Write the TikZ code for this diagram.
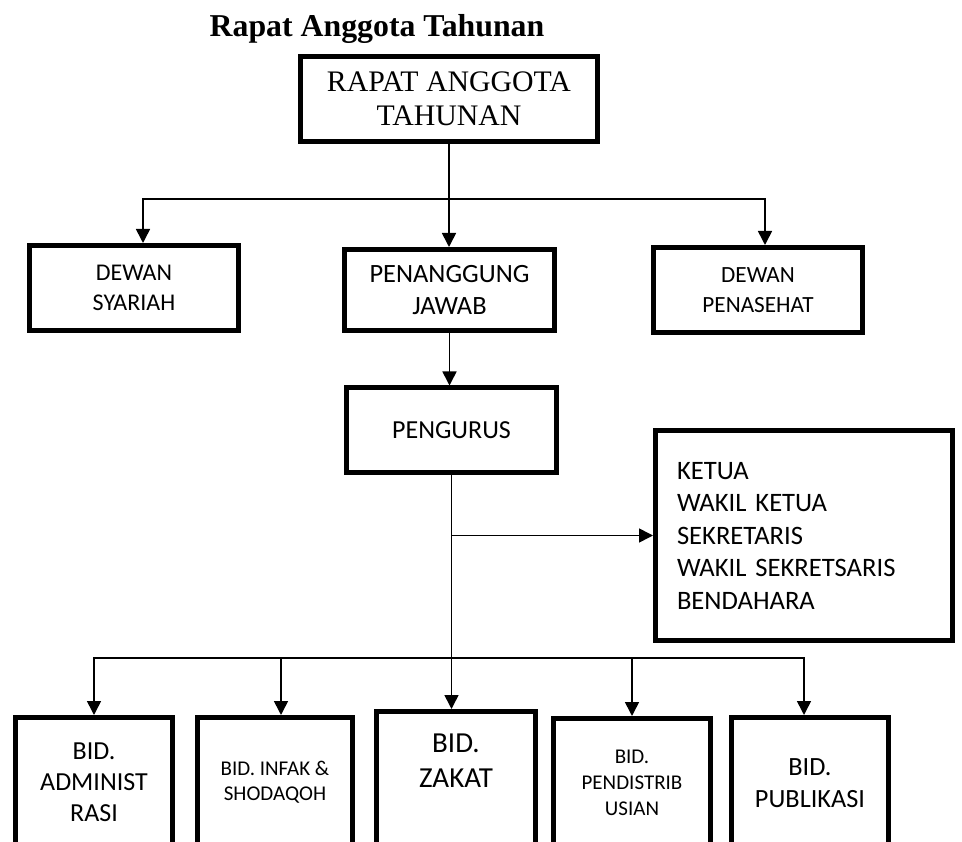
\documentclass[tikz,border=0pt]{standalone}
\usepackage{fontspec}
\setmainfont{Liberation Serif}
\newfontfamily\calibri{Carlito}
\usepackage{tikz}
\usetikzlibrary{arrows.meta}

\tikzset{
  box/.style={draw, line width=5pt, inner sep=0pt, align=center},
  link/.style={line width=1.6pt, -{Triangle[width=14pt,length=14pt]}},
  bar/.style={line width=1.6pt}
}

\begin{document}
\begin{tikzpicture}[x=1pt,y=-1pt]
\clip (0,0) rectangle (962,842);
\node [anchor=base, font=\fontsize{31.8}{36}\selectfont\bfseries] (judul) at (377,37) {Rapat Anggota Tahunan};
\node [box, minimum width=297, minimum height=85, font=\fontsize{29.8}{34}\selectfont] (rat) at (449,99) {RAPAT ANGGOTA\\TAHUNAN};
% baris kedua
\node [box, minimum width=209, minimum height=85, font=\calibri\fontsize{24}{30}\selectfont] (syariah) at (134,288) {DEWAN\\SYARIAH};
\node [box, minimum width=210, minimum height=81, font=\calibri\fontsize{26.4}{32}\selectfont] (pj) at (449.5,290) {PENANGGUNG\\JAWAB};
\node [box, minimum width=209, minimum height=85, font=\calibri\fontsize{23.2}{30}\selectfont] (penasehat) at (758,290) {DEWAN\\PENASEHAT};
\node [box, minimum width=210, minimum height=84, font=\calibri\fontsize{26}{32}\selectfont] (pengurus) at (451.5,430) {PENGURUS};
\node [box, align=left, text width=254, inner xsep=21.5, minimum height=210, font=\calibri\fontsize{26.6}{32.5}\selectfont] (jabatan) at (804,535.5) {KETUA\\WAKIL KETUA\\SEKRETARIS\\WAKIL SEKRETSARIS\\BENDAHARA};
% bidang
\node [box, minimum width=157, minimum height=129, font=\calibri\fontsize{26}{31}\selectfont] (admin) at (94,782) {BID.\\ADMINIST\\RASI};
\node [box, minimum width=155, minimum height=130, font=\calibri\fontsize{21}{25}\selectfont] (infak) at (275,782.5) {BID. INFAK \&\\SHODAQOH};
\node [box, minimum width=159, minimum height=133, font=\calibri\fontsize{29}{35}\selectfont] (zakat) at (456,778) {BID.\\ZAKAT\\ };
\node [box, minimum width=157, minimum height=129, font=\calibri\fontsize{21}{26}\selectfont] (distrib) at (632,783) {BID.\\PENDISTRIB\\USIAN};
\node [box, minimum width=157, minimum height=131, font=\calibri\fontsize{26.3}{32}\selectfont] (publikasi) at (810,783) {BID.\\PUBLIKASI};

\coordinate (cabang) at (rat.south |- 0,199);
\draw [link] (rat.south) -- (rat.south |- pj.north);
\draw [link] (cabang) -| ([xshift=9]syariah.north);
\draw [link] (cabang) -| ([xshift=7]penasehat.north);
\draw [link] (pj.south) -- (pj.south |- pengurus.north);
\draw [link] (pengurus.south) -- (pengurus.south |- zakat.north);
\coordinate (tengah) at (pengurus.south |- jabatan.west);
\draw [link] (tengah) -- (jabatan.west);
\coordinate (bawah) at (pengurus.south |- 0,658);
\draw [link] (bawah) -| (admin.north);
\draw [link] (bawah) -| ([xshift=6]infak.north);
\draw [link] (bawah) -| (distrib.north);
\draw [link] (bawah) -| ([xshift=-6]publikasi.north);
\end{tikzpicture}
\end{document}
